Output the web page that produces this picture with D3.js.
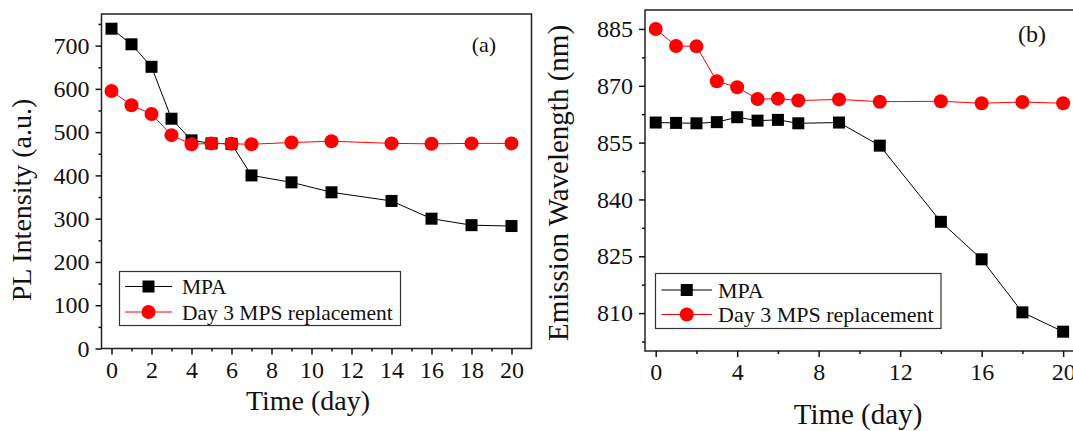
<!DOCTYPE html>
<html>
<head>
<meta charset="utf-8">
<script src="https://cdn.jsdelivr.net/npm/d3@7"></script>
<style>
html,body{margin:0;padding:0;background:#fff;}
svg{display:block;font-family:"Liberation Serif","Times New Roman",serif;}
</style>
</head>
<body>
<svg id="chart" width="1073" height="431"></svg>
<script>
const days = [0,1,2,3,4,5,6,7,9,11,14,16,18,20];
const intensityMPA = [739,703,651,531,481,474,473,400,384,361,341,300,285,283];
const intensityMPS = [595,562,542,493,472,474,473,472,476,479,474,473,474,474];
const wavelengthMPA = [860.3,860.2,860.1,860.4,861.7,860.8,861.0,860.1,860.3,854.2,834.1,824.2,810.2,805.1];
const wavelengthMPS = [885.0,880.5,880.4,871.2,869.6,866.5,866.6,866.1,866.4,865.8,865.9,865.4,865.7,865.4];
const seriesNames = ["MPA","Day 3 MPS replacement"];
const ticksA_y = [0,100,200,300,400,500,600,700];
const ticksA_x = [0,2,4,6,8,10,12,14,16,18,20];
const ticksB_y = [810,825,840,855,870,885];
const ticksB_x = [0,4,8,12,16,20];

const svg = d3.select("#chart");

function panel(cfg){
  const g = svg.append("g");
  const x = d3.scaleLinear().domain(cfg.xDomain).range(cfg.xRange);
  const y = d3.scaleLinear().domain(cfg.yDomain).range(cfg.yRange);
  const [L,R] = cfg.xRange, [B,T] = cfg.yRange;

  // frame
  g.append("rect").attr("x",L).attr("y",T).attr("width",R-L).attr("height",B-T)
    .attr("fill","none").attr("stroke","#222").attr("stroke-width",1.5);

  // minor ticks
  const yAxMinor = d3.axisLeft(y).tickValues(cfg.yMinor).tickSize(3).tickFormat("");
  const xAxMinor = d3.axisBottom(x).tickValues(cfg.xMinor).tickSize(3).tickFormat("");
  // major
  const yAx = d3.axisLeft(y).tickValues(cfg.yTicks).tickSize(6).tickPadding(6).tickFormat(d3.format("d"));
  const xAx = d3.axisBottom(x).tickValues(cfg.xTicks).tickSize(6).tickPadding(6).tickFormat(d3.format("d"));

  [[yAxMinor,`translate(${L},0)`],[xAxMinor,`translate(0,${B})`],[yAx,`translate(${L},0)`],[xAx,`translate(0,${B})`]].forEach(([ax,tr])=>{
    const a = g.append("g").attr("transform",tr).call(ax);
    a.select(".domain").remove();
    a.selectAll("line").attr("stroke","#111").attr("stroke-width",1.5);
    a.selectAll("text").attr("font-size",cfg.tickFont).attr("fill","#111")
      .attr("font-family","Liberation Serif");
  });

  // lines + markers
  const line = d3.line().x((d,i)=>x(days[i])).y(d=>y(d));
  g.append("path").datum(cfg.s1).attr("d",line).attr("fill","none").attr("stroke","#000").attr("stroke-width",1);
  g.selectAll(".sq").data(cfg.s1).enter().append("rect")
    .attr("x",(d,i)=>x(days[i])-6).attr("y",d=>y(d)-6).attr("width",12).attr("height",12).attr("fill","#000");
  g.append("path").datum(cfg.s2).attr("d",line).attr("fill","none").attr("stroke","#ff0000").attr("stroke-width",1);
  g.selectAll(".ci").data(cfg.s2).enter().append("circle")
    .attr("cx",(d,i)=>x(days[i])).attr("cy",d=>y(d)).attr("r",7).attr("fill","#ff0000");

  // legend
  const lg = cfg.legend;
  g.append("rect").attr("x",lg.x).attr("y",lg.y).attr("width",lg.w).attr("height",lg.h)
    .attr("fill","#fff").attr("stroke","#333").attr("stroke-width",1.2);
  seriesNames.forEach((nm,i)=>{
    const cy = lg.rows[i];
    const col = i===0 ? "#000" : "#ff0000";
    g.append("line").attr("x1",lg.l1).attr("x2",lg.l2).attr("y1",cy).attr("y2",cy).attr("stroke",col).attr("stroke-width",1);
    const mx = (lg.l1+lg.l2)/2;
    if(i===0) g.append("rect").attr("x",mx-6).attr("y",cy-6).attr("width",12).attr("height",12).attr("fill",col);
    else g.append("circle").attr("cx",mx).attr("cy",cy).attr("r",7).attr("fill",col);
    g.append("text").attr("x",lg.tx).attr("y",cy).attr("dy","0.35em").attr("font-size",lg.font).attr("fill","#111").text(nm);
  });

  // panel label
  g.append("text").attr("x",cfg.label.x).attr("y",cfg.label.y).attr("text-anchor","middle")
    .attr("font-size",cfg.label.font).attr("fill","#111").text(cfg.label.text);

  // axis titles
  g.append("text").attr("x",cfg.xTitle.x).attr("y",cfg.xTitle.y).attr("text-anchor","middle")
    .attr("font-size",cfg.xTitle.font).attr("fill","#111").text("Time (day)");
  g.append("text").attr("transform",`translate(${cfg.yTitle.x},${cfg.yTitle.y}) rotate(-90)`).attr("text-anchor","middle")
    .attr("font-size",cfg.yTitle.font).attr("fill","#111").text(cfg.yTitle.text);
}

panel({
  xDomain:[-0.5,21], xRange:[101.5,531.5],
  yDomain:[0,773], yRange:[348.5,14],
  xTicks:ticksA_x, xMinor:[1,3,5,7,9,11,13,15,17,19],
  yTicks:ticksA_y, yMinor:[50,150,250,350,450,550,650,750],
  tickFont:24,
  s1:intensityMPA, s2:intensityMPS,
  legend:{x:119.5,y:271.5,w:281,h:54,rows:[286.5,312],l1:125,l2:172,tx:182,font:21.5},
  label:{x:484,y:52,font:22,text:"(a)"},
  xTitle:{x:308,y:410,font:28},
  yTitle:{x:31,y:200,font:28,text:"PL Intensity (a.u.)"}
});

panel({
  xDomain:[-0.525,21], xRange:[645,1083.5],
  yDomain:[800,890], yRange:[351,10],
  xTicks:ticksB_x, xMinor:[2,6,10,14,18],
  yTicks:ticksB_y, yMinor:[802.5,817.5,832.5,847.5,862.5,877.5],
  tickFont:24,
  s1:wavelengthMPA, s2:wavelengthMPS,
  legend:{x:655.5,y:273.5,w:285.5,h:55,rows:[290,314.5],l1:661.5,l2:712,tx:718,font:22},
  label:{x:1032,y:42,font:24,text:"(b)"},
  xTitle:{x:858,y:424,font:29},
  yTitle:{x:568,y:183,font:29,text:"Emission Wavelength (nm)"}
});
</script>
</body>
</html>
